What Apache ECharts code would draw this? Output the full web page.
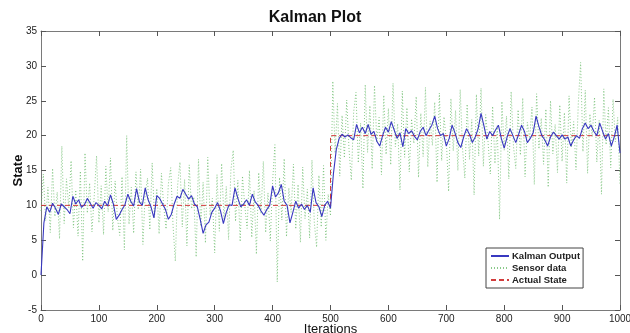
<!DOCTYPE html>
<html>
<head>
<meta charset="utf-8">
<script src="https://cdn.jsdelivr.net/npm/echarts@6/dist/echarts.min.js"></script>
<style>
  html, body { margin: 0; padding: 0; background: #fff; }
  #main { width: 630px; height: 333px; }
</style>
</head>
<body>
<div id="main"></div>
<script>
// Kalman filter run, 1000 iterations
var kalmanStep = 5;   // kalman output read every 5 iterations
var sensorStep = 4;   // sensor samples read every 4 iterations

var kalmanOutput = [
  0, 7.5, 9.8, 9.0, 10.3, 9.6, 8.7, 10.2, 9.8, 9.4,
  8.8, 11.3, 10.2, 10.8, 9.7, 10.1, 11.0, 10.3, 9.6, 10.4,
  10.0, 9.5, 10.6, 9.9, 11.5, 10.2, 8.0, 8.6, 9.4, 10.1,
  11.6, 10.6, 9.9, 12.4, 10.5, 10.0, 12.5, 10.8, 9.8, 8.2,
  11.4, 11.0, 10.2, 9.4, 8.0, 8.7, 10.2, 11.3, 11.0, 12.3,
  11.6, 10.9, 11.4, 10.2, 9.8, 8.0, 6.0, 7.2, 7.6, 9.0,
  9.6, 10.4, 9.2, 7.4, 9.0, 10.1, 10.0, 12.5, 11.0, 9.8,
  10.2, 10.8, 10.0, 11.6, 10.5, 10.0, 9.2, 8.6, 9.4, 10.0,
  12.8, 11.2, 11.8, 13.0, 10.6, 10.0, 7.5, 9.0, 10.6, 9.6,
  10.2, 9.4, 10.0, 9.0, 12.5, 10.4, 9.8, 8.4, 10.0, 10.6,
  9.6, 14.5, 18.0, 19.6, 20.2, 19.8, 20.1, 19.7, 19.4, 21.6,
  20.4, 21.2, 20.3, 21.6, 20.2, 20.6, 19.2, 18.5, 20.0, 21.2,
  20.5, 22.0, 20.8, 19.6, 20.4, 18.4, 21.0, 20.3, 20.7, 19.9,
  19.4, 20.6, 21.2, 20.0, 20.8, 21.5, 22.8, 21.0, 20.0, 20.3,
  18.5, 19.6, 21.5, 20.4, 19.0, 18.3, 19.8, 21.0, 20.2, 19.0,
  19.8, 21.0, 23.2, 21.4, 19.5, 20.6, 20.0, 20.8, 21.5, 19.6,
  18.2, 19.8, 21.0, 20.0, 19.0, 20.2, 21.5, 20.6, 19.0, 19.6,
  20.4, 22.8, 21.3, 20.0, 19.4, 18.5, 19.8, 20.5, 20.0, 19.5,
  20.1, 19.5, 19.8, 18.5, 19.4, 20.0, 19.6, 21.0, 21.8, 21.0,
  21.5, 20.6, 20.0, 21.8, 20.6, 19.5, 20.3, 18.5, 19.8, 21.5,
  17.5
];

var sensorData = [
  9.2, 14.5, 7.8, 12.6, 6.1, 15.3, 8.4, 11.9, 5.2, 18.5,
  7.4, 13.8, 9.6, 16.4, 6.8, 12.2, 5.6, 14.9, 2.0, 17.5,
  8.9, 13.2, 6.2, 11.4, 17.1, 7.5, 12.8, 5.8, 15.6, 9.1,
  16.8, 6.4, 13.5, 8.2, 5.7, 14.1, 3.6, 20.0, 7.3, 12.6,
  6.0, 14.8, 9.4, 15.2, 4.4, 11.7, 13.9, 6.5, 16.1, 8.3,
  12.4, 5.9, 14.6, 9.8, 6.6, 13.1, 15.4, 7.2, 2.0, 12.9,
  16.2, 6.9, 13.7, 4.2, 15.8, 9.5, 11.2, 2.6, 16.6, 7.0,
  13.3, 4.6, 16.9, 8.6, 11.0, 3.2, 14.4, 6.3, 16.0, 8.0,
  12.7, 5.1, 15.1, 17.9, 7.7, 13.6, 4.8, 14.2, 9.9, 6.7,
  15.0, 5.4, 12.1, 3.0, 14.7, 8.8, 16.3, 6.1, 11.8, 4.9,
  13.4, 18.7, -1.0, 14.0, 7.9, 16.7, 5.5, 12.5, 9.0, 15.9,
  6.6, 13.0, 4.7, 15.5, 8.1, 12.3, 5.3, 16.5, 7.6, 4.0,
  14.3, 6.9, 15.7, 5.0, 11.6, 8.5,
  27.8, 17.5, 24.6, 14.2, 22.9, 16.8, 25.1, 18.0, 13.6, 23.4,
  26.2, 16.1, 21.8, 12.4, 27.3, 17.6, 24.3, 15.2, 27.2, 19.0,
  22.6, 14.4, 25.8, 17.3, 23.9, 15.8, 27.5, 18.4, 21.7, 12.2,
  26.4, 16.9, 24.0, 14.8, 22.4, 18.9, 25.6, 14.0, 23.2, 17.0,
  26.9, 15.5, 22.1, 18.6, 24.8, 13.3, 26.1, 16.4, 22.7, 19.4,
  12.0, 25.3, 17.8, 23.6, 15.0, 26.6, 18.2, 13.9, 24.5, 16.6,
  22.3, 11.5, 25.9, 17.1, 26.8, 15.6, 23.0, 19.2, 14.5, 24.2,
  16.0, 21.4, 8.0, 24.9, 17.9, 22.8, 13.8, 26.3, 18.5, 15.3,
  23.7, 17.2, 25.4, 14.1, 21.9, 19.6, 24.1, 13.0, 26.0, 18.1,
  22.5, 15.9, 23.8, 12.6, 25.0, 17.4, 21.6, 14.7, 24.4, 16.3,
  23.3, 13.2, 25.7, 18.3, 22.0, 15.1, 24.7, 30.5, 17.7, 26.5,
  14.6, 23.1, 19.8, 25.5, 16.2, 22.2, 11.6, 26.7, 18.7, 24.0,
  15.4, 25.2, 19.1, 22.6, 13.0
];

var stateIter = [0, 500, 500, 1000];
var stateValue = [10, 10, 20, 20];

var xTicks = { min: 0, max: 1000, interval: 100 };
var yTicks = { min: -5, max: 35, interval: 5 };

function pairs(values, step) {
  return values.map(function(v, i) { return [i * step, v]; });
}

var axisCommon = {
  axisLine: { show: true, onZero: false, lineStyle: { color: '#7a7a7a', width: 1 } },
  axisTick: { show: true, inside: true, length: 5, lineStyle: { color: '#555' } },
  splitLine: { show: false }
};

var option = {
  backgroundColor: '#fff',
  animation: false,
  title: {
    text: 'Kalman Plot',
    left: 'center',
    top: 5,
    textStyle: { fontFamily: 'Liberation Sans', fontSize: 16, fontWeight: 'bold', color: '#111' }
  },
  grid: { left: 41, right: 10, top: 31, bottom: 23, outerBoundsMode: 'none', containLabel: false },
  legend: {
    orient: 'vertical',
    left: 486,
    top: 248,
    backgroundColor: '#fff',
    borderColor: '#444',
    borderWidth: 1,
    padding: [3, 3, 3, 4],
    itemGap: 2,
    itemWidth: 18,
    itemHeight: 8,
    itemStyle: { opacity: 0 },
    data: ['Kalman Output', 'Sensor data', 'Actual State'],
    textStyle: {
      fontFamily: 'Liberation Sans', fontSize: 9.5, fontWeight: 'bold', color: '#222',
      padding: [0, 0, 0, -2]
    }
  },
  xAxis: [
    Object.assign({
      type: 'value', position: 'bottom',
      min: xTicks.min, max: xTicks.max, interval: xTicks.interval,
      name: 'Iterations', nameLocation: 'middle', nameGap: 13, nameMoveOverlap: false,
      nameTextStyle: { fontFamily: 'Liberation Sans', fontSize: 13, color: '#111' },
      axisLabel: {
        fontFamily: 'Liberation Sans', fontSize: 10, color: '#222', margin: 4,
        formatter: function(v) { return String(v); }
      }
    }, axisCommon),
    Object.assign({
      type: 'value', position: 'top',
      min: xTicks.min, max: xTicks.max, interval: xTicks.interval,
      axisLabel: { show: false }
    }, axisCommon)
  ],
  yAxis: [
    Object.assign({
      type: 'value', position: 'left',
      min: yTicks.min, max: yTicks.max, interval: yTicks.interval,
      name: 'State', nameLocation: 'middle', nameGap: 16, nameMoveOverlap: false,
      nameTextStyle: { fontFamily: 'Liberation Sans', fontSize: 13, fontWeight: 'bold', color: '#111' },
      axisLabel: { fontFamily: 'Liberation Sans', fontSize: 10, color: '#222', margin: 4 }
    }, axisCommon),
    Object.assign({
      type: 'value', position: 'right',
      min: yTicks.min, max: yTicks.max, interval: yTicks.interval,
      axisLabel: { show: false }
    }, axisCommon)
  ],
  series: [
    {
      name: 'Sensor data',
      type: 'line',
      symbol: 'none',
      data: pairs(sensorData, sensorStep),
      lineStyle: { color: '#6cbc6c', width: 1, type: [1, 2], opacity: 0.8 },
      itemStyle: { color: '#6cbc6c' },
      z: 1
    },
    {
      name: 'Actual State',
      type: 'line',
      symbol: 'none',
      data: stateIter.map(function(x, i) { return [x, stateValue[i]]; }),
      lineStyle: { color: '#d23c3c', width: 1, type: [5, 3] },
      itemStyle: { color: '#d23c3c' },
      z: 2
    },
    {
      name: 'Kalman Output',
      type: 'line',
      symbol: 'none',
      data: pairs(kalmanOutput, kalmanStep),
      lineStyle: { color: '#3838c0', width: 1.1 },
      itemStyle: { color: '#3838c0' },
      z: 3
    }
  ]
};

var myChart = echarts.init(document.getElementById('main'));
myChart.setOption(option);
</script>
</body>
</html>
